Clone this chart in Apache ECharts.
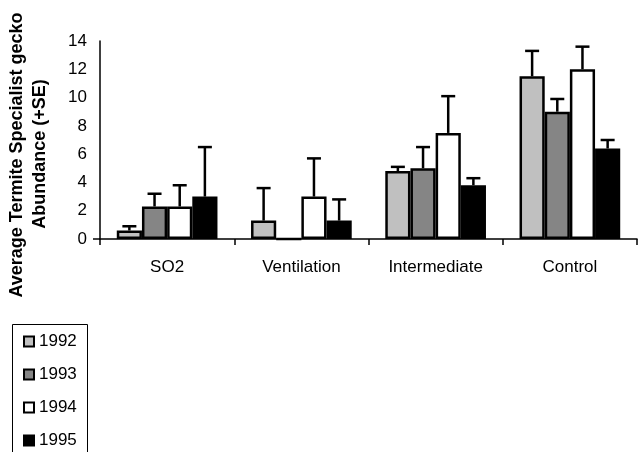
<!DOCTYPE html>
<html><head><meta charset="utf-8">
<script src="https://cdn.jsdelivr.net/npm/echarts@6/dist/echarts.min.js"></script>
<style>html,body{margin:0;padding:0;background:#fff}#c{width:638px;height:452px}</style>
</head><body><div id="c"></div>
<script>
var categories = ['SO2', 'Ventilation', 'Intermediate', 'Control'];
var years = ['1992', '1993', '1994', '1995'];
var mean1992 = [0.6, 1.3, 4.8, 11.5];
var mean1993 = [2.3, 0, 5.0, 9.0];
var mean1994 = [2.3, 3.0, 7.5, 12.0];
var mean1995 = [3.0, 1.3, 3.8, 6.4];
var se1992 = [0.3, 2.3, 0.3, 1.8];
var se1993 = [0.9, null, 1.5, 0.9];
var se1994 = [1.5, 2.7, 2.6, 1.6];
var se1995 = [3.5, 1.5, 0.5, 0.6];
var yTicks = [0, 2, 4, 6, 8, 10, 12, 14];

var means = [mean1992, mean1993, mean1994, mean1995];
var ses = [se1992, se1993, se1994, se1995];
var fills = ['#c0c0c0', '#858585', '#ffffff', '#000000'];
var FONT = 'Liberation Sans, Arial, sans-serif';
var chart = echarts.init(document.getElementById('c'));
var gapFrac = 0.25;
var series = [];
years.forEach(function (y, i) {
  series.push({
    name: y, type: 'bar', data: means[i], barGap: '0%', barCategoryGap: '25%',
    itemStyle: { color: fills[i], borderColor: '#000', borderWidth: 2.5 },
    z: 2
  });
});
years.forEach(function (y, i) {
  var d = categories.map(function (c, k) { return ses[i][k] == null ? null : [k, means[i][k], means[i][k] + ses[i][k]]; }).filter(function (v) { return v; });
  series.push({
    type: 'custom', name: 'err' + y, data: d, z: 3, silent: true,
    renderItem: function (params, api) {
      var k = api.value(0);
      var base = api.coord([k, api.value(1)]);
      var top = api.coord([k, api.value(2)]);
      var band = api.size([1, 0])[0];
      var bw = band * (1 - gapFrac) / 4;
      var x = base[0] + (i - 1.5) * bw;
      var half = 7;
      var st = { stroke: '#000', lineWidth: 2.5, fill: null };
      return { type: 'group', children: [
        { type: 'line', shape: { x1: x, y1: base[1], x2: x, y2: top[1] }, style: st },
        { type: 'line', shape: { x1: x - half, y1: top[1], x2: x + half, y2: top[1] }, style: st }
      ] };
    }
  });
});
chart.setOption({
  animation: false,
  backgroundColor: '#fff',
  grid: { left: 100, right: 1, top: 41, bottom: 213 },
  legend: {
    data: years.map(function (y) { return { name: y, icon: 'rect' }; }),
    orient: 'vertical', left: 23, top: 333,
    padding: 0, itemGap: 16, itemWidth: 10, itemHeight: 10,
    textStyle: { fontFamily: FONT, fontSize: 17, color: '#000', lineHeight: 17 }
  },
  xAxis: {
    type: 'category', data: categories,
    axisLine: { lineStyle: { color: '#000', width: 1.5 } },
    axisTick: { show: true, length: 6, lineStyle: { color: '#000', width: 1.5 } },
    axisLabel: { fontFamily: FONT, fontSize: 17, color: '#000', margin: 20 }
  },
  yAxis: {
    type: 'value', min: 0, max: 14, interval: 2,
    axisLine: { show: true, lineStyle: { color: '#000', width: 1.5 } },
    axisTick: { show: false },
    splitLine: { show: false },
    axisLabel: { fontFamily: FONT, fontSize: 17, color: '#000', margin: 13,
      formatter: function (v) { return yTicks.indexOf(v) >= 0 ? String(v) : ''; } }
  },
  graphic: [
    { type: 'rect', shape: { x: 12.5, y: 324.5, width: 75, height: 200 }, style: { fill: null, stroke: '#000', lineWidth: 1 }, silent: true },
    { type: 'line', shape: { x1: 93, y1: 239, x2: 100, y2: 239 }, style: { stroke: '#000', lineWidth: 1.5 }, silent: true },
    { type: 'text', x: 17, y: 155, rotation: Math.PI / 2, style: { text: 'Average Termite Specialist gecko', font: 'bold 18px ' + FONT, fill: '#000', textAlign: 'center', textVerticalAlign: 'middle' } },
    { type: 'text', x: 40, y: 154, rotation: Math.PI / 2, style: { text: 'Abundance (+SE)', font: 'bold 18px ' + FONT, fill: '#000', textAlign: 'center', textVerticalAlign: 'middle' } }
  ],
  series: series
});
</script></body></html>
